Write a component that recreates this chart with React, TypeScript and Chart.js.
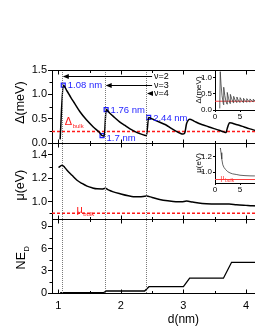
import React, { useEffect, useRef } from "react";
import { Chart, registerables } from "chart.js";
Chart.register(...registerables);

// ---------------- data ----------------
const xTicks = [1, 2, 3, 4, 5];
const xMinorTicks = [1.5, 2.5, 3.5, 4.5];
const deltaTicks = [0, 0.5, 1.0, 1.5];
const deltaMinor = [0.25, 0.75, 1.25];
const muTicks = [1.0, 1.2, 1.4];
const muMinor = [0.9, 1.1, 1.3];
const neTicks = [0, 3, 6, 9];
const neMinor = [1.5, 4.5, 7.5];

const deltaD = [1.03, 1.08, 1.14, 1.2, 1.25, 1.35, 1.45, 1.56, 1.66, 1.70, 1.735, 1.765, 1.82, 1.88, 1.98, 2.06, 2.14, 2.22, 2.30, 2.38, 2.41, 2.445, 2.50, 2.57, 2.65, 2.73, 2.80, 2.88, 2.95, 2.99, 3.02, 3.05, 3.07, 3.10, 3.17, 3.25, 3.33, 3.41, 3.49, 3.57, 3.64, 3.68, 3.70, 3.72, 3.74, 3.77, 3.83, 3.89, 3.97, 4.05, 4.13, 4.22, 4.30, 4.33, 4.36, 4.40, 4.50, 4.70, 4.95, 4.98, 5.02, 5.10];
const deltaV = [0.08, 1.19, 1.07, 0.94, 0.84, 0.64, 0.48, 0.335, 0.22, 0.158, 0.15, 0.69, 0.62, 0.55, 0.44, 0.37, 0.30, 0.245, 0.20, 0.165, 0.16, 0.53, 0.50, 0.46, 0.415, 0.37, 0.31, 0.25, 0.205, 0.19, 0.21, 0.40, 0.46, 0.49, 0.455, 0.405, 0.37, 0.335, 0.30, 0.267, 0.235, 0.22, 0.30, 0.38, 0.42, 0.415, 0.39, 0.37, 0.335, 0.30, 0.27, 0.245, 0.225, 0.22, 0.38, 0.39, 0.36, 0.30, 0.23, 0.22, 0.36, 0.35];
const markerD = [1.08, 1.70, 1.765, 2.445];
const markerV = [1.19, 0.158, 0.69, 0.53];
const markerLabels = ["1.08 nm", "1.7 nm", "1.76 nm", "2.44 nm"];
const deltaBulk = 0.24;

const muD = [1.005, 1.06, 1.10, 1.14, 1.22, 1.30, 1.38, 1.46, 1.54, 1.62, 1.70, 1.75, 1.80, 1.88, 2.0, 2.12, 2.2, 2.3, 2.41, 2.5, 2.62, 2.75, 2.88, 2.97, 3.05, 3.15, 3.3, 3.45, 3.57, 3.73, 3.85, 4.0, 4.1, 4.4, 4.7, 5.1];
const muV = [1.292, 1.312, 1.295, 1.269, 1.225, 1.183, 1.155, 1.132, 1.118, 1.109, 1.108, 1.113, 1.10, 1.083, 1.065, 1.049, 1.041, 1.040, 1.047, 1.035, 1.018, 1.006, 0.998, 0.998, 1.004, 0.995, 0.984, 0.979, 0.978, 0.978, 0.972, 0.967, 0.964, 0.962, 0.958, 0.955];
const muBulk = 0.90;

const neD = [1.03, 1.72, 1.77, 2.38, 2.45, 3.0, 3.1, 3.64, 3.77, 4.3, 4.4, 5.1];
const neV = [0.04, 0.04, 0.27, 0.27, 0.85, 0.85, 2.0, 2.0, 4.15, 4.15, 6.0, 6.0];

const vLines = [1.065, 1.75, 2.41];
const nuLabels = ["\u03bd=2", "\u03bd=3", "\u03bd=4"];
const nuLevels = [1.377, 1.19, 1.027];
const nuEnd = 2.50;

// inset 1: Delta vs d
const inset1Ticks = [0, 0.5, 1.0];
const inset1XTicks = [0, 5, 10];
const inset1D = [0.95, 1.05, 1.2, 1.4, 1.65, 1.72, 1.77, 1.95, 2.2, 2.4, 2.45, 2.7, 3.0, 3.07, 3.35, 3.68, 3.73, 4.0, 4.33, 4.38, 4.65, 4.98, 5.03, 5.35, 5.65, 5.7, 6.0, 6.3, 6.35, 6.65, 6.95, 7.0, 7.3, 7.6, 7.65, 8.0, 8.25, 8.3, 8.6, 8.9, 8.95, 9.3, 9.55, 9.6, 10.0];
const inset1V = [0.05, 1.18, 0.8, 0.45, 0.2, 0.16, 0.7, 0.45, 0.26, 0.18, 0.54, 0.36, 0.2, 0.48, 0.34, 0.22, 0.42, 0.31, 0.23, 0.40, 0.30, 0.23, 0.38, 0.29, 0.23, 0.36, 0.29, 0.24, 0.35, 0.29, 0.24, 0.34, 0.29, 0.25, 0.33, 0.28, 0.25, 0.32, 0.28, 0.25, 0.32, 0.28, 0.26, 0.31, 0.28];
const inset1Bulk = 0.27;

// inset 2: mu vs d
const inset2Ticks = [1.0, 1.2];
const inset2XTicks = [0, 5, 10];
const inset2D = [1.0, 1.08, 1.2, 1.35, 1.56, 1.8, 2.1, 2.56, 3.0, 3.5, 4.24, 5.0, 6.0, 7.0, 7.9, 9.0, 10.0];
const inset2V = [1.30, 1.31, 1.25, 1.17, 1.094, 1.06, 1.035, 1.005, 0.99, 0.978, 0.97, 0.96, 0.955, 0.952, 0.951, 0.949, 0.948];
const inset2Bulk = 0.905;

// ---------------- helpers ----------------
const FONT = '"Liberation Sans", Arial, Helvetica, sans-serif';
Chart.defaults.font.family = FONT;

const pts = (xs: number[], ys: number[]) => xs.map((x, i) => ({ x, y: ys[i] }));

function drawRich(ctx: CanvasRenderingContext2D, x: number, y: number, main: string, sub: string, size: number, subSize: number, color: string, rotate: boolean, align: "left" | "center") {
  ctx.save();
  ctx.fillStyle = color;
  ctx.textBaseline = "middle";
  ctx.textAlign = "left";
  ctx.font = `${size}px ${FONT}`;
  const w1 = ctx.measureText(main).width;
  ctx.font = `${subSize}px ${FONT}`;
  const w2 = sub ? ctx.measureText(sub).width : 0;
  ctx.translate(x, y);
  if (rotate) ctx.rotate(-Math.PI / 2);
  const start = align === "center" ? -(w1 + w2) / 2 : 0;
  ctx.font = `${size}px ${FONT}`;
  ctx.fillText(main, start, 0);
  if (sub) {
    ctx.font = `${subSize}px ${FONT}`;
    ctx.fillText(sub, start + w1 + 0.5, size * 0.4);
  }
  ctx.restore();
}

function seg(ctx: CanvasRenderingContext2D, x1: number, y1: number, x2: number, y2: number) {
  ctx.beginPath();
  ctx.moveTo(x1, y1);
  ctx.lineTo(x2, y2);
  ctx.stroke();
}

const mainPlugin = {
  id: "mainDecor",
  afterDatasetsDraw(chart: any) {
    const { ctx, chartArea: a, scales } = chart;
    const xs = scales.x;
    const panels = [
      { s: scales.yD, minor: deltaMinor },
      { s: scales.yM, minor: muMinor },
      { s: scales.yN, minor: neMinor },
    ];
    ctx.save();
    // dotted vertical guide lines
    ctx.strokeStyle = "#7a7a7a";
    ctx.lineWidth = 1;
    ctx.setLineDash([1, 1]);
    for (const d of vLines) {
      const px = Math.round(xs.getPixelForValue(d)) + 0.5;
      seg(ctx, px, a.top, px, a.bottom);
    }
    ctx.setLineDash([]);
    // frame lines
    ctx.strokeStyle = "#000";
    ctx.lineWidth = 1;
    const hs = [a.top, ...panels.map((p) => p.s.bottom)];
    for (const h of hs) {
      const py = Math.round(h) + 0.5;
      seg(ctx, a.left, py, a.right, py);
    }
    const rx = Math.round(a.right) - 0.5;
    seg(ctx, rx, a.top, rx, a.bottom);
    // ticks
    for (const p of panels) {
      const b = Math.round(p.s.bottom) + 0.5;
      const t = Math.round(p.s.top) + 0.5;
      for (const v of xTicks) {
        const px = Math.round(xs.getPixelForValue(v)) + 0.5;
        seg(ctx, px, b, px, b - 4);
        seg(ctx, px, t, px, t + 4);
      }
      for (const v of xMinorTicks) {
        const px = Math.round(xs.getPixelForValue(v)) + 0.5;
        seg(ctx, px, b, px, b - 2.5);
        seg(ctx, px, t, px, t + 2.5);
      }
      for (const v of p.minor) {
        const py = Math.round(p.s.getPixelForValue(v)) + 0.5;
        seg(ctx, a.left - 2.5, py, a.left, py);
      }
    }
    // nu arrows
    const yD = scales.yD;
    ctx.fillStyle = "#000";
    nuLevels.forEach((lv, i) => {
      const py = Math.round(yD.getPixelForValue(lv)) + 0.5;
      const x1 = xs.getPixelForValue(vLines[i]) + 0.5;
      const x2 = xs.getPixelForValue(nuEnd);
      seg(ctx, x1 + 3, py, x2, py);
      ctx.beginPath();
      ctx.moveTo(x1, py);
      ctx.lineTo(x1 + 6, py - 2.5);
      ctx.lineTo(x1 + 6, py + 2.5);
      ctx.closePath();
      ctx.fill();
      ctx.font = `9px ${FONT}`;
      ctx.textBaseline = "middle";
      ctx.textAlign = "left";
      ctx.fillText(nuLabels[i], x2 + 2, py);
    });
    // marker labels
    ctx.fillStyle = "#1f1fff";
    ctx.font = `9.5px ${FONT}`;
    markerLabels.forEach((lab, i) => {
      const px = xs.getPixelForValue(markerD[i]);
      const py = yD.getPixelForValue(markerV[i]);
      ctx.fillText(lab, px + 4.5, py + (i === 1 ? 2.5 : 0.5));
    });
    // bulk labels
    drawRich(ctx, xs.getPixelForValue(1.105), yD.getPixelForValue(0.44), "\u0394", "bulk", 11, 6, "#ff1a1a", false, "left");
    drawRich(ctx, xs.getPixelForValue(1.29), scales.yM.getPixelForValue(0.925), "\u03bc", "bulk", 11, 6, "#ff1a1a", false, "left");
    // axis titles
    drawRich(ctx, 21, (yD.top + yD.bottom) / 2 - 4, "\u0394(meV)", "", 12.5, 7, "#000", true, "center");
    drawRich(ctx, 21, (scales.yM.top + scales.yM.bottom) / 2 + 4, "\u03bc(eV)", "", 12.5, 7, "#000", true, "center");
    drawRich(ctx, 22, (scales.yN.top + scales.yN.bottom) / 2 + 2, "NE", "D", 12.5, 7.5, "#000", true, "center");
    ctx.fillStyle = "#000";
    ctx.font = `12px ${FONT}`;
    ctx.textAlign = "center";
    ctx.textBaseline = "middle";
    ctx.fillText("d(nm)", (a.left + a.right) / 2, 320);
    ctx.restore();
  },
};

function yScale(min: number, max: number, ticks: number[], weight: number, fmt: (v: number) => string) {
  return {
    type: "linear",
    position: "left",
    stack: "panels",
    stackWeight: weight,
    min,
    max,
    afterBuildTicks: (s: any) => {
      s.ticks = ticks.map((v) => ({ value: v }));
    },
    afterFit: (s: any) => {
      s.width = 52;
    },
    grid: { display: true, drawOnChartArea: false, drawTicks: true, tickLength: 4, color: "#000" },
    border: { display: true, color: "#000", width: 1 },
    ticks: { color: "#000", font: { size: 11 }, padding: 1, autoSkip: false, callback: (v: any) => fmt(Number(v)) },
  };
}

function insetChart(canvas: HTMLCanvasElement, cfg: any) {
  const titlePlugin = {
    id: "insetDecor",
    afterDatasetsDraw(chart: any) {
      const { ctx, chartArea: a, scales } = chart;
      drawRich(ctx, a.left - 16, (a.top + a.bottom) / 2 + cfg.titleDy, cfg.title, "", 8, 5, "#000", true, "center");
      if (cfg.bulkText) {
        drawRich(ctx, scales.x.getPixelForValue(cfg.bulkText.x), scales.y.getPixelForValue(cfg.bulkText.y), "\u03bc", "bulk", 7, 5, "#ff3030", false, "left");
      }
    },
  };
  return new Chart(canvas, {
    type: "line",
    data: {
      datasets: [
        { data: pts(cfg.xs, cfg.ys), borderColor: "#3c3c3c", borderWidth: 0.8, pointRadius: 0, tension: 0 },
        { data: pts([0, 10], [cfg.bulk, cfg.bulk]), borderColor: "#ff4040", borderWidth: 1, pointRadius: 0 },
      ],
    },
    options: {
      animation: false,
      responsive: false,
      maintainAspectRatio: false,
      layout: { padding: { left: 0, right: 5, top: 8, bottom: 0 } },
      plugins: { legend: { display: false }, tooltip: { enabled: false } },
      scales: {
        x: {
          type: "linear",
          min: 0,
          max: 10,
          afterBuildTicks: (s: any) => {
            s.ticks = cfg.xTicks.map((v: number) => ({ value: v }));
          },
          afterFit: (s: any) => {
            s.height = 14;
          },
          grid: { display: true, drawOnChartArea: false, tickLength: 2, color: "#000" },
          border: { display: true, color: "#000" },
          ticks: { color: "#000", font: { size: 8 }, padding: 0, maxRotation: 0, autoSkip: false, callback: (v: any) => String(v) },
        },
        y: {
          type: "linear",
          min: cfg.min,
          max: cfg.max,
          afterBuildTicks: (s: any) => {
            s.ticks = cfg.yTicks.map((v: number) => ({ value: v }));
          },
          afterFit: (s: any) => {
            s.width = 30;
          },
          grid: { display: true, drawOnChartArea: false, tickLength: 2, color: "#000" },
          border: { display: true, color: "#000" },
          ticks: { color: "#000", font: { size: 8 }, padding: 1, autoSkip: false, callback: (v: any) => Number(v).toFixed(1) },
        },
      },
    },
    plugins: [titlePlugin],
  } as any);
}

export default function App() {
  const mainRef = useRef<HTMLCanvasElement>(null);
  const in1Ref = useRef<HTMLCanvasElement>(null);
  const in2Ref = useRef<HTMLCanvasElement>(null);

  useEffect(() => {
    const main = new Chart(mainRef.current as HTMLCanvasElement, {
      type: "line",
      data: {
        datasets: [
          { data: pts(deltaD, deltaV), yAxisID: "yD", borderColor: "#000", borderWidth: 1.5, pointRadius: 0, cubicInterpolationMode: "monotone" },
          { data: pts([0.9, 5.1], [deltaBulk, deltaBulk]), yAxisID: "yD", borderColor: "#ff1a1a", borderWidth: 1.5, borderDash: [3, 2], pointRadius: 0 },
          { data: pts(markerD, markerV), yAxisID: "yD", showLine: false, pointStyle: "rect", pointRadius: 2.8, borderColor: "#1f1fff", borderWidth: 1.2, backgroundColor: "rgba(255,255,255,0)" },
          { data: pts(muD, muV), yAxisID: "yM", borderColor: "#000", borderWidth: 1.5, pointRadius: 0, cubicInterpolationMode: "monotone" },
          { data: pts([0.9, 5.1], [muBulk, muBulk]), yAxisID: "yM", borderColor: "#ff1a1a", borderWidth: 1.5, borderDash: [3, 2], pointRadius: 0 },
          { data: pts(neD, neV), yAxisID: "yN", borderColor: "#000", borderWidth: 1.3, pointRadius: 0, tension: 0 },
        ],
      },
      options: {
        animation: false,
        responsive: false,
        maintainAspectRatio: false,
        layout: { padding: { left: 0, right: 3, top: 70, bottom: 0 } },
        plugins: { legend: { display: false }, tooltip: { enabled: false } },
        scales: {
          x: {
            type: "linear",
            min: 0.9,
            max: 5.1,
            afterBuildTicks: (s: any) => {
              s.ticks = xTicks.map((v) => ({ value: v }));
            },
            afterFit: (s: any) => {
              s.height = 37;
            },
            grid: { display: false, drawTicks: false },
            border: { display: false },
            ticks: { color: "#000", font: { size: 11 }, padding: 6, maxRotation: 0, autoSkip: false, callback: (v: any) => String(v) },
          },
          // stacked panels are laid out bottom-up in definition order
          yN: yScale(0, 10, neTicks, 74, (v) => String(v)),
          yM: yScale(0.85, 1.5, muTicks, 75.7, (v) => v.toFixed(1)),
          yD: yScale(0, 1.5, deltaTicks, 73.3, (v) => v.toFixed(1)),
        },
      },
      plugins: [mainPlugin],
    } as any);

    const c1 = insetChart(in1Ref.current as HTMLCanvasElement, {
      xs: inset1D, ys: inset1V, bulk: inset1Bulk, min: 0, max: 1.23, yTicks: inset1Ticks, xTicks: inset1XTicks, title: "\u0394(meV)", titleDy: 0,
    });
    const c2 = insetChart(in2Ref.current as HTMLCanvasElement, {
      xs: inset2D, ys: inset2V, bulk: inset2Bulk, min: 0.86, max: 1.375, yTicks: inset2Ticks, xTicks: inset2XTicks, title: "\u03bc(eV)", titleDy: 0,
      bulkText: { x: 1.1, y: 0.93 },
    });
    return () => {
      main.destroy();
      c1.destroy();
      c2.destroy();
    };
  }, []);

  return (
    <div style={{ position: "fixed", left: 0, top: 0, width: 255, height: 330, overflow: "hidden", background: "#fff" }}>
      <div style={{ position: "relative", width: 320, height: 330 }}>
        <canvas ref={mainRef} width={320} height={330} style={{ position: "absolute", left: 0, top: 0, width: 320, height: 330 }} />
        <canvas ref={in1Ref} width={85} height={62} style={{ position: "absolute", left: 185, top: 62, width: 85, height: 62 }} />
        <canvas ref={in2Ref} width={85} height={62} style={{ position: "absolute", left: 185, top: 135, width: 85, height: 62 }} />
      </div>
    </div>
  );
}
